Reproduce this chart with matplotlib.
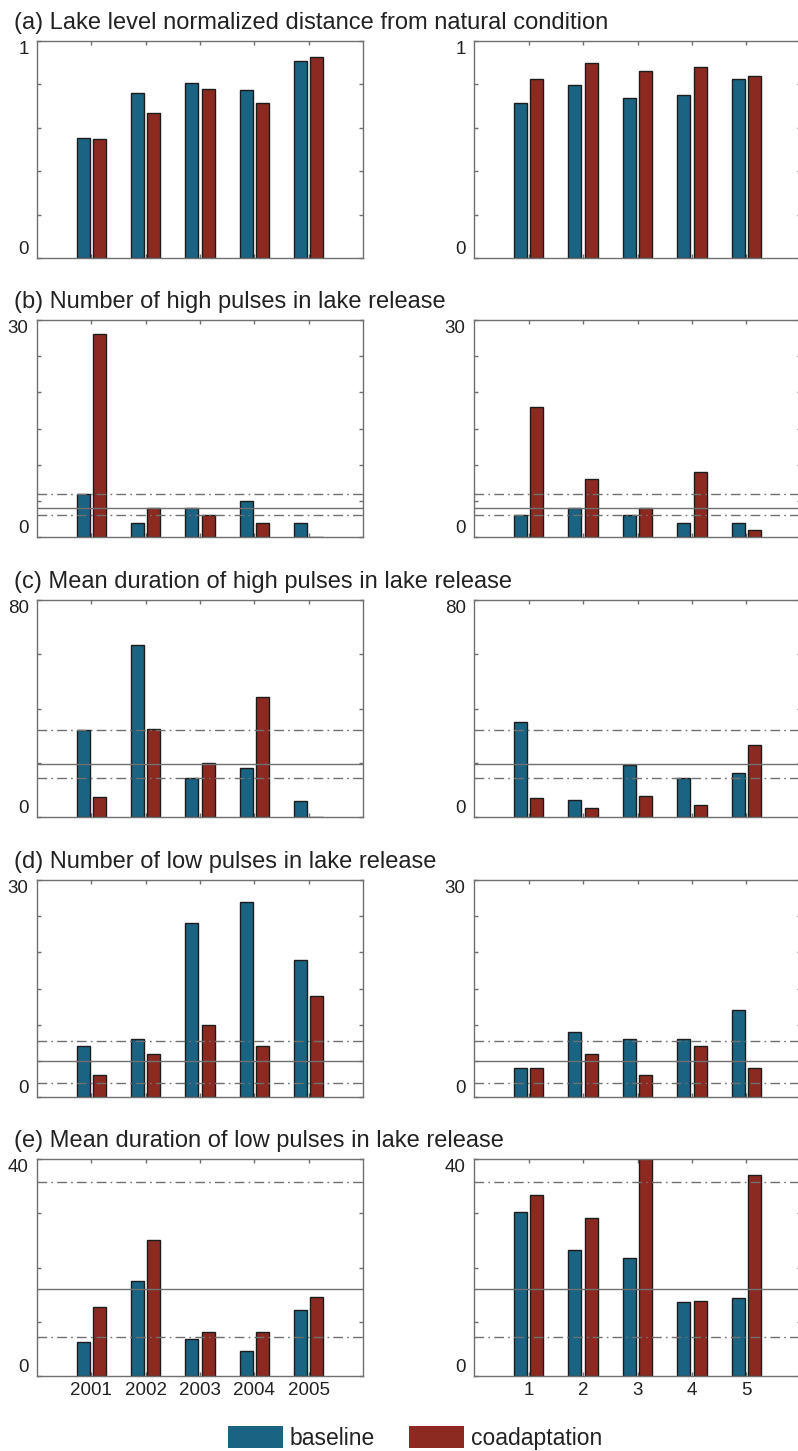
import matplotlib
matplotlib.use("Agg")
import matplotlib.pyplot as plt
from matplotlib.patches import Patch
import numpy as np

plt.rcParams['font.family'] = ['Liberation Sans', 'DejaVu Sans']

# per-panel values, (left = calendar years, right = scenario index)
years = ['2001', '2002', '2003', '2004', '2005']
scenarios = ['1', '2', '3', '4', '5']

titles = [
    '(a) Lake level normalized distance from natural condition',
    '(b) Number of high pulses in lake release',
    '(c) Mean duration of high pulses in lake release',
    '(d) Number of low pulses in lake release',
    '(e) Mean duration of low pulses in lake release',
]
ymax = [1, 30, 80, 30, 40]
ystep = [0.2, 5, 20, 5, 10]

base_left = [
    [0.553, 0.759, 0.805, 0.776, 0.906],
    [6, 2, 4, 5, 2],
    [32.0, 63.3, 14.4, 18.2, 6.0],
    [7, 8, 24, 27, 19],
    [6.3, 17.5, 6.8, 4.7, 12.1],
]
coad_left = [
    [0.549, 0.666, 0.780, 0.713, 0.924],
    [28, 4, 3, 2, 0],
    [7.4, 32.3, 19.9, 44.2, 0.0],
    [3, 6, 10, 7, 14],
    [12.7, 25.1, 8.2, 8.1, 14.5],
]
base_right = [
    [0.716, 0.796, 0.739, 0.753, 0.827],
    [3, 4, 3, 2, 2],
    [35.2, 6.3, 19.0, 14.4, 16.4],
    [4, 9, 8, 8, 12],
    [30.3, 23.2, 21.7, 13.7, 14.3],
]
coad_right = [
    [0.824, 0.900, 0.864, 0.878, 0.838],
    [18, 8, 4, 9, 1],
    [6.9, 3.5, 7.8, 4.5, 26.5],
    [4, 6, 3, 7, 4],
    [33.3, 29.2, 46.0, 13.8, 37.1],
]
# natural-condition reference: (upper, mean, lower); None for panel (a)
ref_lines = [
    None,
    (6, 4, 3),
    (32, 19.5, 14.5),
    (7.8, 5, 2),
    (35.8, 16.1, 7.1),
]

BLUE = '#1a6383'
RED = '#8c2a21'
GREY = '#707070'

W, H = 798, 1451
fig = plt.figure(figsize=(W / 100, H / 100), dpi=100)

tops = [41, 320, 600, 880, 1159]
ax_h = 217
col_x = [(37, 326), (474, 327)]

x = np.arange(1, 6)
bw = 0.24
off = 0.15


def draw_panel(ax, row, base, coad, xlabels):
    ax.bar(x - off, base, bw, color=BLUE, edgecolor='#1c1c1c', linewidth=1, zorder=2)
    ax.bar(x + off, coad, bw, color=RED, edgecolor='#1c1c1c', linewidth=1, zorder=2)
    ref = ref_lines[row]
    if ref is not None:
        hi, mid, lo = ref
        dd = (0, (7, 3, 1.2, 3))
        ax.axhline(hi, color=GREY, lw=1, ls=dd, zorder=3)
        ax.axhline(mid, color=GREY, lw=1, ls='-', zorder=3)
        ax.axhline(lo, color=GREY, lw=1, ls=dd, zorder=3)
    ax.set_xlim(0, 6)
    ax.set_ylim(0, ymax[row])
    yt = np.arange(0, ymax[row] + ystep[row] / 2, ystep[row])
    ax.set_yticks(yt)
    labels = [''] * len(yt)
    labels[0] = '0'
    labels[-1] = str(ymax[row])
    ax.set_yticklabels(labels)
    tl = ax.get_yticklabels()
    tl[0].set_va('bottom')
    tl[-1].set_va('top')
    ax.set_xticks(x)
    if xlabels is None:
        ax.set_xticklabels([])
    else:
        ax.set_xticklabels(xlabels)
    ax.tick_params(direction='in', length=3, width=1, color=GREY,
                   top=True, right=True, labelsize=13.5, labelcolor='#222222')
    ax.tick_params(axis='y', pad=6)
    ax.tick_params(axis='x', pad=4)
    for s in ax.spines.values():
        s.set_color(GREY)
        s.set_linewidth(1)


for row in range(5):
    top = tops[row]
    bottom = 1 - (top + ax_h) / H
    for col, (x0, w) in enumerate(col_x):
        ax = fig.add_axes([x0 / W, bottom, w / W, ax_h / H])
        if col == 0:
            draw_panel(ax, row, base_left[row], coad_left[row],
                       years if row == 4 else None)
        else:
            draw_panel(ax, row, base_right[row], coad_right[row],
                       scenarios if row == 4 else None)
    fig.text(14 / W, 1 - (top - 12) / H, titles[row], fontsize=17,
             color='#222222', va='baseline', ha='left')

handles = [Patch(facecolor=BLUE, edgecolor='none', label='baseline'),
           Patch(facecolor=RED, edgecolor='none', label='coadaptation')]
fig.legend(handles=handles, loc='lower center', ncol=2, frameon=False,
           fontsize=16.5, handlelength=2.4, handleheight=1.1,
           handletextpad=0.3, columnspacing=1.5,
           bbox_to_anchor=(0.52, -0.0135), labelcolor='#222222')

fig.savefig('out.png', dpi=100)
